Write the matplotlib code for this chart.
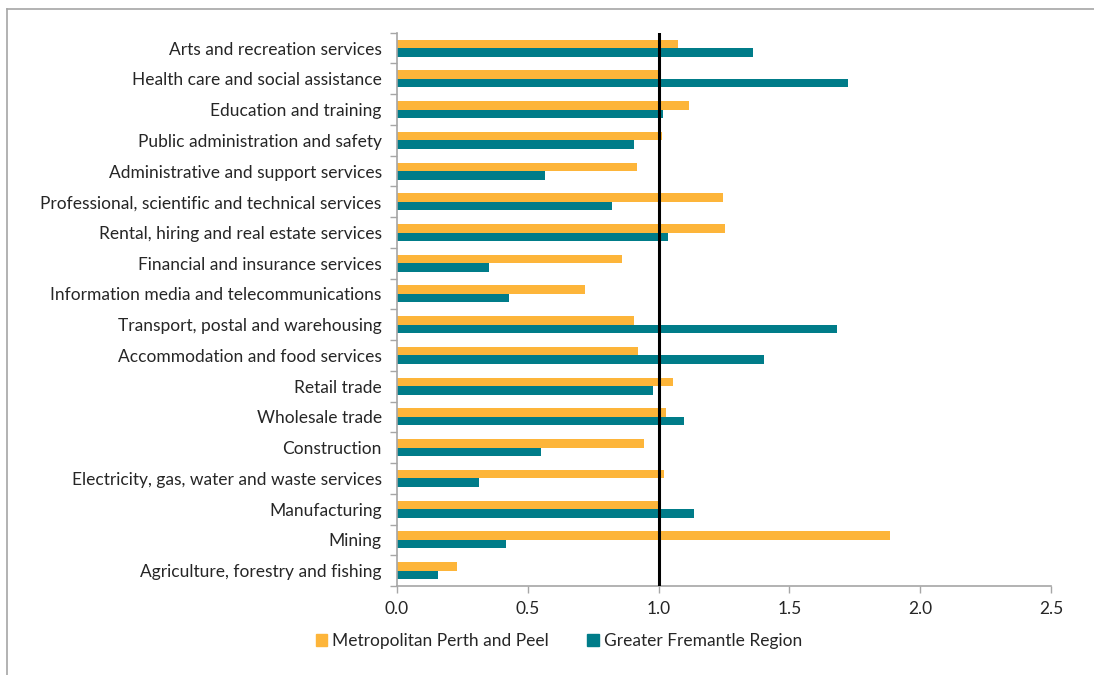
import matplotlib
matplotlib.use("Agg")
import matplotlib.pyplot as plt
import numpy as np
from matplotlib.lines import Line2D
from matplotlib.patches import Patch

categories = [
    "Arts and recreation services",
    "Health care and social assistance",
    "Education and training",
    "Public administration and safety",
    "Administrative and support services",
    "Professional, scientific and technical services",
    "Rental, hiring and real estate services",
    "Financial and insurance services",
    "Information media and telecommunications",
    "Transport, postal and warehousing",
    "Accommodation and food services",
    "Retail trade",
    "Wholesale trade",
    "Construction",
    "Electricity, gas, water and waste services",
    "Manufacturing",
    "Mining",
    "Agriculture, forestry and fishing",
]
perth_peel = [1.074, 1.009, 1.115, 1.014, 0.918, 1.246, 1.255, 0.860, 0.718,
              0.906, 0.921, 1.056, 1.027, 0.945, 1.020, 0.996, 1.883, 0.228]
fremantle = [1.360, 1.723, 1.017, 0.907, 0.564, 0.820, 1.037, 0.351, 0.429,
             1.681, 1.403, 0.980, 1.096, 0.551, 0.313, 1.136, 0.418, 0.157]
series_names = ["Metropolitan Perth and Peel", "Greater Fremantle Region"]
x_ticks = [0.0, 0.5, 1.0, 1.5, 2.0, 2.5]
x_tick_labels = ["0.0", "0.5", "1.0", "1.5", "2.0", "2.5"]

ORANGE = "#FDB53A"
TEAL = "#007C89"
GREY = "#A6A6A6"
TXT = "#262626"

plt.rcParams['font.family'] = ['Lato', 'DejaVu Sans']
FS = 12.5

fig = plt.figure(figsize=(10.94, 6.75), dpi=100)
ax = fig.add_axes([397/1094, 1-586/675, (1051-397)/1094, (586-32.7)/675])

n = len(categories)
y = np.arange(n)
h = 0.277
ax.barh(y - h/2, perth_peel, height=h, color=ORANGE, label=series_names[0])
ax.barh(y + h/2, fremantle, height=h, color=TEAL, label=series_names[1])
ax.axvline(1.0, color="black", lw=2.2, zorder=5)

ax.set_ylim(n - 0.5, -0.5)
ax.set_xlim(0, 2.5)
ax.set_yticks(y)
ax.set_yticklabels(categories, fontsize=FS, color=TXT)
ax.set_yticks(np.arange(n + 1) - 0.5, minor=True)
ax.tick_params(axis="y", which="major", length=0, pad=11)
ax.tick_params(axis="y", which="minor", length=5, color=GREY, width=1)
ax.set_xticks(x_ticks)
ax.set_xticklabels(x_tick_labels, fontsize=FS, color=TXT)
ax.tick_params(axis="x", length=5, color=GREY, width=1, pad=6)

for s in ["top", "right"]:
    ax.spines[s].set_visible(False)
for s in ["left", "bottom"]:
    ax.spines[s].set_color(GREY)
    ax.spines[s].set_linewidth(1.2)

handles = [Patch(color=ORANGE), Patch(color=TEAL)]
fig.legend(handles, series_names, loc="center", bbox_to_anchor=(559/1094, 1-641/675),
           ncol=2, frameon=False, fontsize=FS, handlelength=0.65, handleheight=0.65,
           handletextpad=0.3, columnspacing=2.2, labelcolor=TXT)

fig.add_artist(Line2D([7/1094, 7/1094], [0, 1-9/675], color=GREY, lw=1.2,
                      transform=fig.transFigure))
fig.add_artist(Line2D([7/1094, 1], [1-9/675, 1-9/675], color=GREY, lw=1.2,
                      transform=fig.transFigure))

fig.savefig("out.png", dpi=100)
